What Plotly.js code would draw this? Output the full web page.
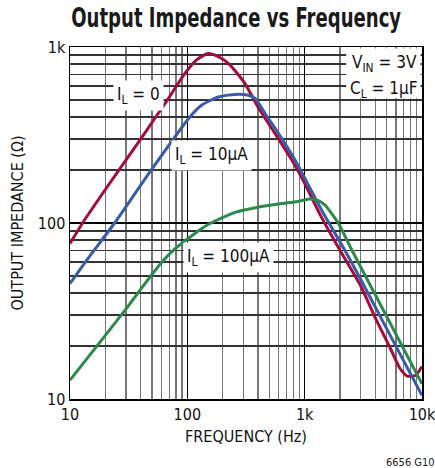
<!DOCTYPE html>
<html>
<head>
<meta charset="utf-8">
<script src="https://cdn.plot.ly/plotly-3.0.1.min.js"></script>
<style>
html,body{margin:0;padding:0;background:#fff;}
#chart{width:435px;height:468px;}
</style>
</head>
<body>
<div id="chart"></div>
<script>
// Data (frequency in Hz, output impedance in ohms)
const freqIL0 = [10, 12.8, 20, 40, 70, 95, 120, 150, 180, 225, 310, 400, 560, 780, 1000, 1350, 2000, 3000, 3900, 5400, 6500, 7500, 8800, 9700, 10000];
const zIL0    = [76.5, 100, 155, 300, 518, 706, 845, 918, 888, 805, 620, 456, 322, 227, 168, 112, 70, 44, 30, 19.3, 14.9, 13.5, 13.6, 14.8, 15.3];

const freqIL10 = [10, 14, 24, 49, 105, 132, 184, 255, 330, 380, 460, 600, 830, 1000, 1460, 2200, 3000, 5000, 7000, 10000];
const zIL10    = [45.3, 62, 100, 199, 400, 467, 520, 538, 532, 509, 419, 322, 227, 180, 112, 70, 47.9, 25.1, 16.4, 10.5];

const freqIL100 = [10, 20, 30, 40, 60, 78, 105, 150, 223, 255, 400, 640, 900, 1110, 1310, 1500, 1700, 1950, 2530, 5000, 10000];
const zIL100    = [12.8, 23, 32.5, 42, 59.5, 71, 83, 98, 111, 115, 123, 129, 133, 137, 134, 126, 113, 99, 70, 29.4, 12.2];

const xTickVals = [10, 100, 1000, 10000];
const xTickText = ['10', '100', '1k', '10k'];
const yTickVals = [10, 100, 1000];
const yTickText = ['10', '100', '1k'];

const seriesNames = ['I_L = 0', 'I_L = 10µA', 'I_L = 100µA'];

const FONT = '"DejaVu Sans Condensed", "Liberation Sans Narrow", "Arial Narrow", sans-serif';

const lineStyle = (c) => ({color: c, width: 3, shape: 'spline', smoothing: 0.6});

const traces = [
  {x: freqIL0, y: zIL0, mode: 'lines', name: seriesNames[0], line: lineStyle('#a30d3a')},
  {x: freqIL10, y: zIL10, mode: 'lines', name: seriesNames[1], line: lineStyle('#3a5ba9')},
  {x: freqIL100, y: zIL100, mode: 'lines', name: seriesNames[2], line: lineStyle('#2b8a4b')}
];

const px2x = (p) => (p - 70.3) / 351.4;
const px2y = (p) => (398.7 - p) / 352;

const annFont = {family: FONT, size: 17, color: '#111'};

const layout = {
  width: 435, height: 468,
  margin: {l: 70, r: 13, t: 47, b: 69},
  paper_bgcolor: '#fff', plot_bgcolor: '#fff',
  showlegend: false,
  title: {
    text: '<b>Output Impedance vs Frequency</b>',
    font: {family: FONT, size: 26, color: '#1a1a1a'},
    xref: 'container', yref: 'container',
    x: 0.543, xanchor: 'center', y: 0.961, yanchor: 'middle'
  },
  xaxis: {
    type: 'log', range: [0.9999, 4.0003],
    tickvals: xTickVals, ticktext: xTickText,
    ticks: '', tickfont: {family: FONT, size: 16, color: '#111'},
    ticklabeloverflow: 'allow',
    showgrid: true, gridcolor: '#000', gridwidth: 1.2,
    minor: {dtick: 'D1', showgrid: true, gridcolor: '#777', gridwidth: 1.2, ticks: ''},
    showline: true, mirror: true, linecolor: '#000', linewidth: 1.5,
    zeroline: false,
    title: {text: 'FREQUENCY (Hz)', font: {family: FONT, size: 16, color: '#111'}, standoff: 8}
  },
  yaxis: {
    type: 'log', range: [0.9999, 3.0001],
    tickvals: yTickVals, ticktext: yTickText,
    ticks: '', tickfont: {family: FONT, size: 16, color: '#111'},
    ticklabeloverflow: 'allow',
    showgrid: true, gridcolor: '#000', gridwidth: 1.2,
    minor: {dtick: 'D1', showgrid: true, gridcolor: '#333', gridwidth: 1.2, ticks: ''},
    showline: true, mirror: true, linecolor: '#000', linewidth: 1.5,
    zeroline: false,
    title: {text: 'OUTPUT IMPEDANCE (Ω)', font: {family: FONT, size: 16, color: '#111'}, standoff: 10}
  },
  shapes: [
    {type: 'rect', xref: 'paper', yref: 'paper', x0: px2x(346), x1: 0.996, y0: px2y(98), y1: 0.996,
     fillcolor: '#fff', line: {width: 0}, layer: 'above'}
  ],
  annotations: [
    {xref: 'paper', yref: 'paper', x: px2x(139), y: px2y(95), text: 'I<sub>L</sub> = 0',
     showarrow: false, font: annFont, bgcolor: '#fff', borderpad: 3, xanchor: 'center', yanchor: 'middle'},
    {xref: 'paper', yref: 'paper', x: px2x(212), y: px2y(155), text: 'I<sub>L</sub> = 10µA',
     showarrow: false, font: annFont, bgcolor: '#fff', borderpad: 3, xanchor: 'center', yanchor: 'middle'},
    {xref: 'paper', yref: 'paper', x: px2x(229), y: px2y(257), text: 'I<sub>L</sub> = 100µA',
     showarrow: false, font: annFont, bgcolor: '#fff', borderpad: 3, xanchor: 'center', yanchor: 'middle'},
    {xref: 'paper', yref: 'paper', x: px2x(419), y: px2y(63), text: 'V<sub>IN</sub> = 3V',
     showarrow: false, font: annFont, xanchor: 'right', yanchor: 'middle'},
    {xref: 'paper', yref: 'paper', x: px2x(419), y: px2y(89), text: 'C<sub>L</sub> = 1µF',
     showarrow: false, font: annFont, xanchor: 'right', yanchor: 'middle'},
    {xref: 'paper', yref: 'paper', x: px2x(410), y: px2y(462), text: '6656 G10',
     showarrow: false, font: {family: FONT, size: 11, color: '#222'}, xanchor: 'center', yanchor: 'middle'}
  ]
};

Plotly.newPlot('chart', traces, layout, {displayModeBar: false, staticPlot: true}).then(() => {
  // Narrow the bold title horizontally to mimic the condensed typeface of the reference
  const t = document.querySelector('.gtitle');
  if (t) {
    const bb = t.getBBox();
    const target = 330;
    if (bb.width > target) {
      const sx = target / bb.width;
      const cx = bb.x + bb.width / 2;
      const prev = t.getAttribute('transform') || '';
      t.setAttribute('transform', prev + ' translate(' + cx + ',0) scale(' + sx + ',1) translate(' + (-cx) + ',0)');
    }
  }
});
</script>
</body>
</html>
